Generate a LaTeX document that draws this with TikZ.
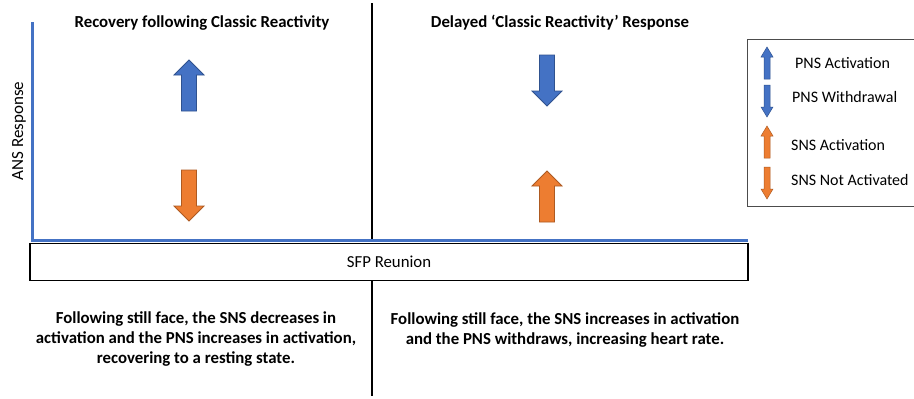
\documentclass[tikz,border=0pt]{standalone}
\usepackage{fontspec}
\setmainfont{Carlito}
\definecolor{ablue}{HTML}{4472C4}
\definecolor{ablueline}{HTML}{2F528F}
\definecolor{aorange}{HTML}{ED7D31}
\definecolor{aorangeline}{HTML}{AE5A21}
\tikzset{
  x=1pt, y=-1pt,
  axisline/.style={ablue, line width=3pt},
  divider/.style={black, line width=1.3pt},
  titletext/.style={font=\fontsize{16.8}{20}\selectfont\bfseries, inner sep=0pt},
  bodytext/.style={font=\fontsize{16.8}{20}\selectfont\bfseries, align=center, inner sep=0pt},
  legtext/.style={font=\fontsize{16}{19}\selectfont, anchor=west, inner sep=0pt},
  bigarrow/.pic={\path[pic actions] (0,0) -- (15,15) -- (7.5,15) -- (7.5,51) -- (-7.5,51) -- (-7.5,15) -- (-15,15) -- cycle;},
  smallarrow/.pic={\path[pic actions] (0,0) -- (6,10) -- (3,10) -- (3,32) -- (-3,32) -- (-3,10) -- (-6,10) -- cycle;},
  bluefill/.style={fill=ablue, draw=ablueline, line width=0.8pt},
  orangefill/.style={fill=aorange, draw=aorangeline, line width=0.8pt},
}
\begin{document}
\begin{tikzpicture}
\useasboundingbox[fill=white] (0,0) rectangle (914,399);
% dividers
\coordinate (dtop) at (372,3);
\coordinate (dmid) at (372,239);
\coordinate (dlow) at (372,281);
\coordinate (dbot) at (372,396);
\draw[divider] (dtop) -- (dmid);
\draw[divider] (dlow) -- (dbot);
% axes
\coordinate (ytop) at (32,22);
\coordinate (origin) at (32,240);
\coordinate (xend) at (748,240);
\draw[axisline] (ytop) -- (origin) -- (xend);
% SFP box
\node[draw, line width=1.3pt, minimum width=718pt, minimum height=37pt, inner sep=0pt,
      font=\fontsize{16.8}{20}\selectfont] (reunion) at (389,262) {SFP Reunion};
% titles
\node[titletext] (t1) at (202,23) {Recovery following Classic Reactivity};
\node[titletext] (t2) at (560,23) {Delayed ‘Classic Reactivity’ Response};
% y label
\node[rotate=90, font=\fontsize{17}{20}\selectfont, inner sep=0pt] (ylab) at (19,131) {ANS Response};
% main arrows
\pic[bluefill] at (189,60) {bigarrow};
\pic[orangefill, rotate=180] at (189,221) {bigarrow};
\pic[bluefill, rotate=180] at (547,106) {bigarrow};
\pic[orangefill] at (547,171) {bigarrow};
% bottom texts
\node[bodytext] (b1) at (196,339) {Following still face, the SNS decreases in\\activation and the PNS increases in activation,\\recovering to a resting state.};
\node[bodytext] (b2) at (565,330) {Following still face, the SNS increases in activation\\and the PNS withdraws, increasing heart rate.};
% legend
\draw[line width=0.8pt, black!70] (747,39) rectangle (918,206);
\pic[bluefill, line width=0.5pt] at (767,47) {smallarrow};
\pic[bluefill, line width=0.5pt, rotate=180] at (767,117) {smallarrow};
\pic[orangefill, line width=0.5pt] at (767,126) {smallarrow};
\pic[orangefill, line width=0.5pt, rotate=180] at (767,199) {smallarrow};
\node[legtext] (l1) at (795,63) {PNS Activation};
\node[legtext] (l2) at (792,97) {PNS Withdrawal};
\node[legtext] (l3) at (791,145) {SNS Activation};
\node[legtext] (l4) at (791,180) {SNS Not Activated};
\end{tikzpicture}
\end{document}
